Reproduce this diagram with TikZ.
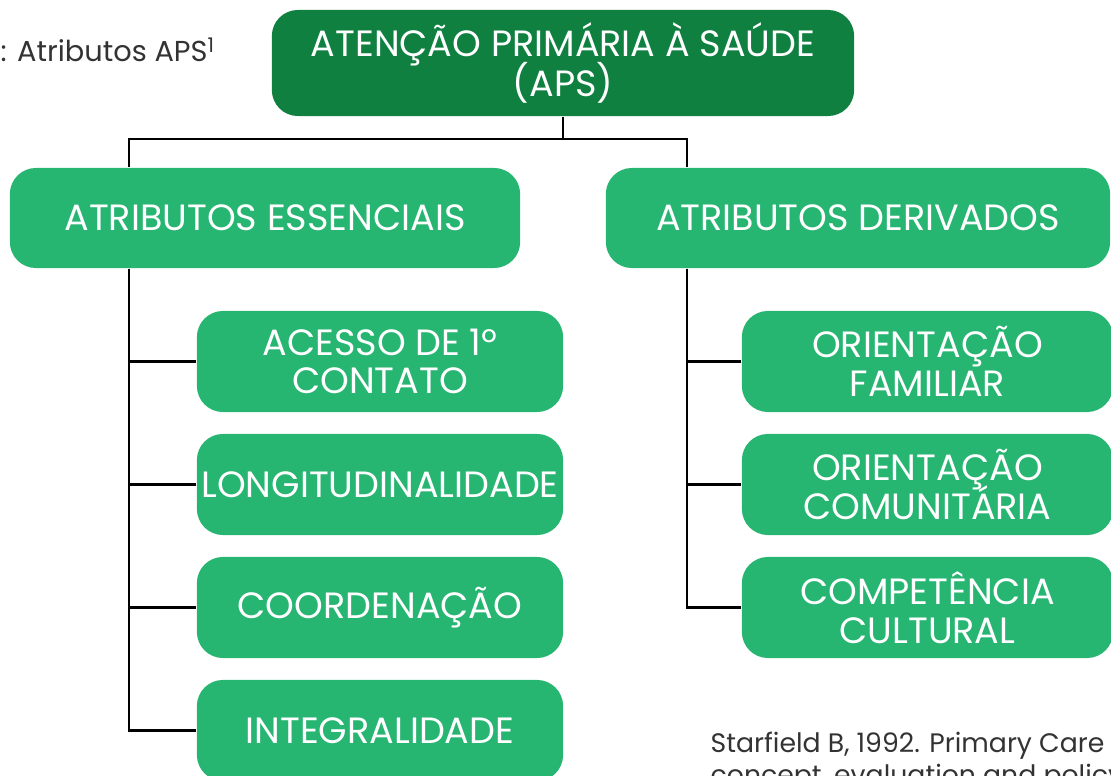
\documentclass[tikz,border=0pt]{standalone}
\usepackage{fontspec}
\setmainfont{Poppins}
\usepackage{tikz}
\usetikzlibrary{positioning}
\definecolor{apsdark}{HTML}{0F8040}
\definecolor{apslight}{HTML}{27B572}
\definecolor{apsgray}{HTML}{333333}
\newcommand\apsboxfont{\fontsize{10.4}{11}\selectfont\lineskiplimit=-20pt\relax}
\newcommand\apsrootfont{\fontsize{10.4}{11.4}\selectfont\lineskiplimit=-20pt\relax}

\begin{document}
\begin{tikzpicture}[x=0.01cm,y=-0.01cm,
    box/.style={fill=apslight, text=white, rounded corners=0.26cm,
        inner sep=0pt, align=center,
        font=\apsboxfont},
    link/.style={draw=black, line width=0.6pt}]

\useasboundingbox (0,0) rectangle (1111,776);
\clip (0,0) rectangle (1111,776);

% Root block
\node[box,
    fill=apsdark,
    minimum width=5.82cm,
    minimum height=1.06cm,
    font=\apsrootfont] (aps) at (563,63) {ATENÇÃO PRIMÁRIA À SAÚDE\\(APS)};

% Two groups
\node[box,
    minimum width=5.10cm,
    minimum height=1.00cm] (essenciais) at (265,218) {ATRIBUTOS ESSENCIAIS};

\node[box,
    minimum width=5.04cm,
    minimum height=1.00cm] (derivados) at (858,218) {ATRIBUTOS DERIVADOS};

% Essential attributes
\node[box,
    minimum width=3.66cm,
    minimum height=1.01cm] (acesso) at (380,361.5) {ACESSO DE 1º\\CONTATO};

\node[box,
    minimum width=3.66cm,
    minimum height=1.01cm] (longit) at (380,484.5) {LONGITUDINALIDADE};

\node[box,
    minimum width=3.66cm,
    minimum height=1.01cm] (coord) at (380,607.5) {COORDENAÇÃO};

\node[box,
    minimum width=3.66cm,
    minimum height=1.01cm] (integral) at (380,730.5) {INTEGRALIDADE};

% Derived attributes
\node[box,
    minimum width=3.71cm,
    minimum height=1.01cm] (familiar) at (927.5,361.5) {ORIENTAÇÃO\\FAMILIAR};

\node[box,
    minimum width=3.71cm,
    minimum height=1.01cm] (comunit) at (927.5,484.5) {ORIENTAÇÃO\\COMUNITÁRIA};

\node[box,
    minimum width=3.71cm,
    minimum height=1.01cm] (cultural) at (927.5,607.5) {COMPETÊNCIA\\CULTURAL};

% Texts
\node[anchor=base west, inner sep=0pt, text=apsgray,
    font=\fontsize{8.2}{9}\selectfont] (titulo) at (0,62) {: Atributos APS\textsuperscript{1}};

\node[anchor=base west, inner sep=0pt, text=apsgray,
    font=\fontsize{7.6}{9}\selectfont] (fonte) at (710,753) {Starfield B, 1992. Primary Care};
\node[anchor=base west, inner sep=0pt, text=apsgray,
    font=\fontsize{7.6}{9}\selectfont] (fonte2) at (710,785) {concept, evaluation and policy};

% Lines
\coordinate (hub) at (563,139);
\coordinate (leftbus) at (129,0);
\coordinate (rightbus) at (687,0);

\draw[link] (aps) -- (hub);
\draw[link] (hub) -| (essenciais.north -| leftbus);
\draw[link] (hub) -| (derivados.north -| rightbus);

\foreach \c in {acesso,longit,coord,integral}
    \draw[link] (essenciais.south -| leftbus) |- (\c.west);

\foreach \c in {familiar,comunit,cultural}
    \draw[link] (derivados.south -| rightbus) |- (\c.west);

\end{tikzpicture}
\end{document}
